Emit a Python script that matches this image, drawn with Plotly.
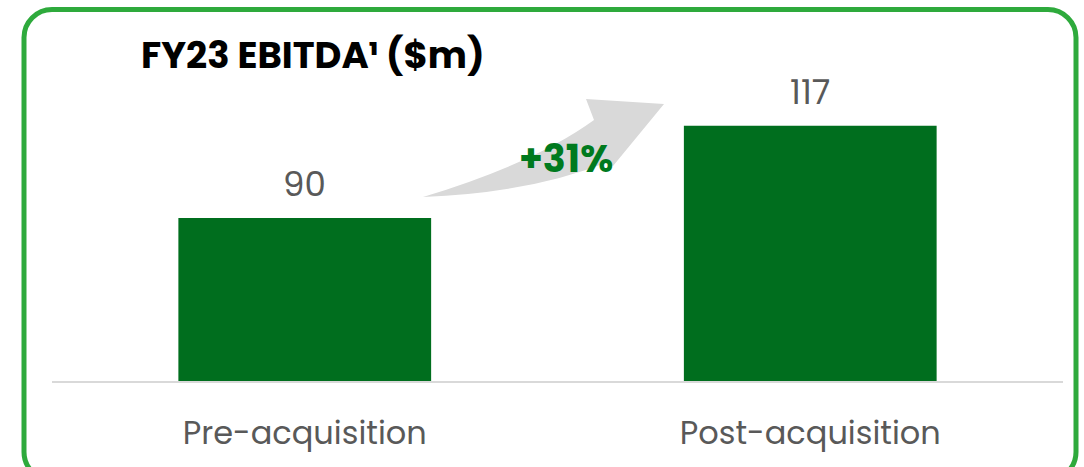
import plotly.graph_objects as go

categories = ["Pre-acquisition", "Post-acquisition"]
ebitda = [90, 117]
growth_label = "+31%"
title_text = "FY23 EBITDA¹ ($m)"

W, H = 1084, 467
ML, MR, MT, MB = 52, 21, 60, 86
PW, PH = W - ML - MR, H - MT - MB


def px(x):
    return (x - ML) / PW


def py(y):
    return (H - MB - y) / PH


BAR = "#006e1e"
BORDER = "#2eaa3c"
FONT = "Poppins, Inter, Lato, sans-serif"

fig = go.Figure(go.Bar(x=categories, y=ebitda, marker_color=BAR, marker_line_width=0,
                       width=0.5, hoverinfo="skip"))

for c, v in zip(categories, ebitda):
    fig.add_annotation(x=c, y=v, text=str(v), showarrow=False, yanchor="bottom", yshift=8,
                       font=dict(family=FONT, size=34, color="#595959"))

# curved arrow
pts = [(423, 197), (535, 163), (594, 120), (586, 99), (664, 104), (613, 166), (608, 162), (530, 193), (423, 197)]
P = [(px(a), py(b)) for a, b in pts]
arrow = (f"M {P[0][0]},{P[0][1]} Q {P[1][0]},{P[1][1]} {P[2][0]},{P[2][1]} "
         f"L {P[3][0]},{P[3][1]} L {P[4][0]},{P[4][1]} L {P[5][0]},{P[5][1]} L {P[6][0]},{P[6][1]} "
         f"Q {P[7][0]},{P[7][1]} {P[8][0]},{P[8][1]} Z")
fig.add_shape(type="path", path=arrow, xref="paper", yref="paper", fillcolor="#d9d9d9",
              line_width=0, layer="below")

# rounded border
L_, R_, T_, B_, r = 24, 1076, 9.5, 480, 28
k = 0.45
border = (f"M {px(L_)},{py(B_ - r)} L {px(L_)},{py(T_ + r)} "
          f"C {px(L_)},{py(T_ + r * k)} {px(L_ + r * k)},{py(T_)} {px(L_ + r)},{py(T_)} "
          f"L {px(R_ - r)},{py(T_)} "
          f"C {px(R_ - r * k)},{py(T_)} {px(R_)},{py(T_ + r * k)} {px(R_)},{py(T_ + r)} "
          f"L {px(R_)},{py(B_ - r)} "
          f"C {px(R_)},{py(B_ - r * k)} {px(R_ - r * k)},{py(B_)} {px(R_ - r)},{py(B_)} "
          f"L {px(L_ + r)},{py(B_)} "
          f"C {px(L_ + r * k)},{py(B_)} {px(L_)},{py(B_ - r * k)} {px(L_)},{py(B_ - r)} Z")
fig.add_shape(type="path", path=border, xref="paper", yref="paper",
              line=dict(color=BORDER, width=5), fillcolor="rgba(0,0,0,0)")

fig.add_annotation(x=px(566), y=py(158), xref="paper", yref="paper", text=f"<b>{growth_label}</b>",
                   showarrow=False, xanchor="center", yanchor="middle",
                   font=dict(family=FONT, size=38, color="#007a1e", weight=800))

fig.add_annotation(x=px(139), y=py(55), xref="paper", yref="paper", text=f"<b>{title_text}</b>",
                   showarrow=False, xanchor="left", yanchor="middle",
                   font=dict(family=FONT, size=37, color="#000000", weight=800))

fig.update_layout(
    width=W, height=H, margin=dict(l=ML, r=MR, t=MT, b=MB, autoexpand=False),
    paper_bgcolor="white", plot_bgcolor="white", showlegend=False, bargap=0.5,
    xaxis=dict(showline=True, linecolor="#d9d9d9", linewidth=2, showgrid=False,
               ticks="", ticklabelstandoff=23, automargin=False,
               tickfont=dict(family=FONT, size=32, color="#595959")),
    yaxis=dict(range=[42.2, 136.3], visible=False, showgrid=False, zeroline=False, automargin=False),
)

fig.write_html("out.html", config={"displayModeBar": False},
               post_script="document.body.style.margin='0';document.body.style.overflow='hidden';")
